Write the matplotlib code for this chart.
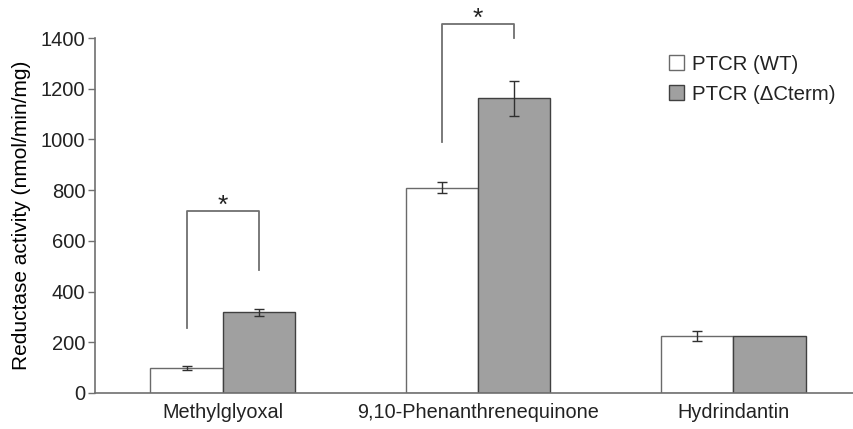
import matplotlib.pyplot as plt
import numpy as np

plt.rcParams["font.family"] = ["Liberation Sans", "DejaVu Sans"]
plt.rcParams["text.color"] = "#222222"
plt.rcParams["xtick.labelcolor"] = "#222222"
plt.rcParams["ytick.labelcolor"] = "#222222"

# dados
categorias = ["Methylglyoxal", "9,10-Phenanthrenequinone", "Hydrindantin"]
wt_vals = [100, 810, 225]
wt_err = [8, 22, 20]
dc_vals = [318, 1162, 225]
dc_err = [15, 70, 0]
series_labels = ["PTCR (WT)", "PTCR (\u0394Cterm)"]

# colchetes de significância: (categoria, altura esq., altura dir., topo)
brackets = [(0, 256, 485, 719), (1, 990, 1400, 1455)]

fig = plt.figure(figsize=(8.54, 4.29), dpi=100)
ax = fig.add_axes([95 / 854, 36 / 429, 766 / 854, 355 / 429])

x = np.arange(len(categorias))
w = 0.283

ax.bar(x - w / 2, wt_vals, w, color="white", edgecolor="#6a6a6a", linewidth=1,
       label=series_labels[0])
ax.bar(x + w / 2, dc_vals, w, color="#a0a0a0", edgecolor="#404040", linewidth=1,
       label=series_labels[1])

# barras de erro (só onde existe erro)
for xs, vals, errs in [(x - w / 2, wt_vals, wt_err), (x + w / 2, dc_vals, dc_err)]:
    m = np.array(errs) > 0
    ax.errorbar(np.asarray(xs)[m], np.array(vals)[m], yerr=np.array(errs)[m],
                fmt="none", ecolor="#303030", elinewidth=1, capsize=3.5,
                capthick=1)

for i, yl, yr, top in brackets:
    xl, xr = i - w / 2, i + w / 2
    ax.plot([xl, xl, xr, xr], [yl, top, top, yr], color="#707070", lw=1.3,
            clip_on=False)
    ax.annotate("*", (i, top), xytext=(0, -5), textcoords="offset points",
                ha="center", va="bottom", fontsize=19, annotation_clip=False)

ax.set_xlim(-0.5, 2.5)
ax.set_ylim(0, 1400)
ax.set_yticks(range(0, 1401, 200))
ax.set_xticks(x)
ax.set_xticklabels(categorias, fontsize=14.3)
ax.tick_params(axis="x", length=0, pad=7)
ax.tick_params(axis="y", labelsize=14.5, length=5, color="#707070", width=1,
               pad=2)
ax.set_ylabel("Reductase activity (nmol/min/mg)", fontsize=15, labelpad=7)

for s in ["top", "right"]:
    ax.spines[s].set_visible(False)
for s in ["left", "bottom"]:
    ax.spines[s].set_color("#707070")
    ax.spines[s].set_linewidth(1.2)

ax.legend(loc="upper left", bbox_to_anchor=(0.725, 1.005), frameon=False,
          fontsize=14.7, handlelength=0.75, handleheight=0.75,
          handletextpad=0.4, labelspacing=0.55)

fig.savefig("out.png", dpi=100)
